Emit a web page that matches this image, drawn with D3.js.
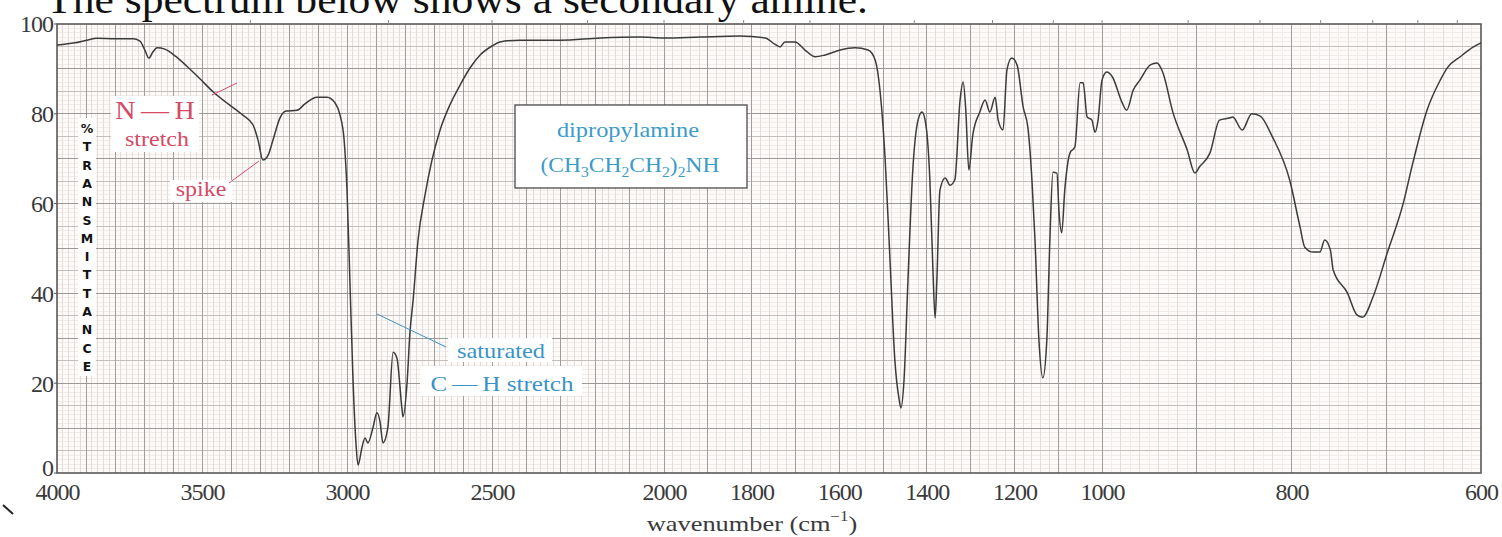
<!DOCTYPE html>
<html>
<head>
<meta charset="utf-8">
<script src="https://cdn.jsdelivr.net/npm/d3@7"></script>
<style>
  body { margin: 0; background: #ffffff; }
  svg { display: block; }
</style>
</head>
<body>
<svg id="chart" width="1502" height="537"></svg>
<script>
// IR spectrum of dipropylamine: wavenumber (cm-1) vs % transmittance
const wavenumbers = [
  4000, 3938, 3897, 3862, 3800, 3738, 3714, 3697, 3683, 3669, 3655, 3628, 3593, 3552, 3507,
  3462, 3410, 3359, 3324, 3307, 3290, 3272, 3255, 3231, 3210, 3172, 3145, 3104, 3069, 3041,
  3024, 3010, 3000, 2990, 2979, 2969, 2962, 2948, 2938, 2928, 2910, 2897, 2886, 2876, 2859,
  2841, 2828, 2810, 2807, 2793, 2783, 2772, 2755, 2731, 2707, 2679, 2645, 2610, 2576, 2541,
  2500, 2477, 2419, 2302, 2186, 2070, 2000, 1918, 1827, 1769, 1747, 1735, 1724, 1701, 1678,
  1655, 1632, 1598, 1564, 1534, 1518, 1507, 1495, 1484, 1473, 1463, 1459, 1452, 1443, 1432,
  1420, 1411, 1402, 1393, 1386, 1381, 1377, 1370, 1358, 1347, 1336, 1324, 1317, 1311, 1304,
  1295, 1279, 1267, 1256, 1244, 1237, 1226, 1217, 1206, 1194, 1180, 1169, 1160, 1153, 1144,
  1135, 1126, 1119, 1112, 1103, 1098, 1092, 1085, 1073, 1062, 1050, 1043, 1034, 1023, 1016,
  1009, 1000, 995, 989, 979, 974, 967, 960, 949, 942, 936, 925, 910, 902, 897,
  886, 876, 865, 862, 852, 842, 833, 820, 802, 791, 786, 777, 770, 765, 759,
  756, 741, 731, 725, 714, 699, 682, 672, 657, 643, 635, 622, 608, 600
];
const transmittance = [
  95.3, 95.8, 96.4, 96.8, 96.7, 96.7, 96.2, 94.2, 92.4, 93.8, 94.7, 94.4, 92.9, 90.6, 87.8,
  84.9, 82.2, 79.7, 77.5, 74.2, 69.7, 70.8, 74.2, 79.1, 80.6, 80.8, 82.2, 83.7, 83.7, 82.4,
  79.7, 74.2, 63.0, 42.8, 20.3, 6.5, 1.8, 5.8, 7.8, 6.7, 10.2, 13.4, 11.4, 6.7, 10.2,
  26.9, 25.6, 14.0, 12.5, 20.0, 31.2, 38.5, 51.9, 61.9, 69.7, 76.4, 82.0, 86.4, 90.2, 93.1,
  95.1, 96.0, 96.4, 96.4, 96.9, 97.1, 96.9, 97.1, 97.3, 96.9, 95.5, 94.9, 96.0, 96.0, 94.2,
  92.7, 93.1, 94.2, 94.7, 94.2, 92.0, 85.3, 69.7, 47.4, 25.2, 16.3, 14.5, 20.7, 43.0, 67.5,
  78.6, 80.4, 77.5, 65.3, 45.2, 34.5, 43.0, 63.0, 65.7, 64.1, 65.3, 83.1, 87.1, 80.8, 67.5,
  75.3, 80.4, 83.1, 80.4, 83.7, 78.6, 76.4, 89.8, 92.4, 90.9, 81.5, 76.8, 65.3, 51.9, 29.6,
  21.2, 29.6, 51.9, 67.0, 66.8, 57.9, 53.5, 63.0, 71.3, 72.6, 86.9, 86.9, 79.3, 78.6, 75.9,
  78.6, 87.5, 89.3, 88.2, 82.6, 80.8, 85.3, 87.5, 90.9, 91.3, 89.3, 80.2, 71.9, 66.8, 68.2,
  71.3, 78.6, 79.1, 79.3, 76.4, 80.0, 79.5, 74.8, 65.3, 54.8, 50.3, 49.2, 49.2, 51.9, 49.7,
  45.2, 40.1, 35.2, 34.7, 39.2, 49.0, 60.1, 69.0, 80.8, 87.5, 90.4, 92.7, 94.9, 95.8
];

// axis tick labels
const xTickValues = [4000, 3500, 3000, 2500, 2000, 1800, 1600, 1400, 1200, 1000, 800, 600];
const yTickValues = [0, 20, 40, 60, 80, 100];
// wavelength marks (micrometres) along the top edge
const micronTicks = [3, 3.5, 4, 4.5, 5, 5.5, 6, 7, 8, 9, 10, 11, 12, 13, 14, 15, 16];
const yTitle = "%TRANSMITTANCE";

const svg = d3.select("#chart");
const serif = "'Liberation Serif', 'Times New Roman', serif";

// chart paper uses a different scale in each wavenumber band
const x = d3.scaleLinear()
  .domain([4000, 2500, 2000, 1000, 600])
  .range([57, 492, 664, 1102, 1481]);
const y = d3.scaleLinear().domain([0, 100]).range([473, 24]);

// heading (partly off the top edge)
svg.append("text")
  .attr("transform", "translate(46,13) scale(1.09,1)")
  .attr("font-family", serif)
  .attr("font-size", 40)
  .attr("fill", "#111")
  .text("The spectrum below shows a secondary amine.");

// plot paper
svg.append("rect")
  .attr("x", x(4000)).attr("y", y(100))
  .attr("width", x(600) - x(4000)).attr("height", y(0) - y(100))
  .attr("fill", "#fdfbfa");

const grid = svg.append("g").attr("shape-rendering", "crispEdges");

// faint 1% rules
grid.selectAll("line.h1")
  .data(d3.range(1, 100).filter(v => v % 5 !== 0))
  .join("line")
  .attr("x1", x(4000)).attr("x2", x(600))
  .attr("y1", d => y(d)).attr("y2", d => y(d))
  .attr("stroke", "#f1ecea").attr("stroke-width", 1);

// fine vertical rules every 10 cm-1 in the expanded band
grid.selectAll("line.v10")
  .data(d3.range(610, 1000, 20))
  .join("line")
  .attr("x1", d => x(d)).attr("x2", d => x(d))
  .attr("y1", y(100)).attr("y2", y(0))
  .attr("stroke", "#f1ecea").attr("stroke-width", 1);

// vertical rules every 20 cm-1
grid.selectAll("line.v20")
  .data(d3.range(620, 4000, 20).filter(v => v % 100 !== 0))
  .join("line")
  .attr("x1", d => x(d)).attr("x2", d => x(d))
  .attr("y1", y(100)).attr("y2", y(0))
  .attr("stroke", "#e4dcd9").attr("stroke-width", 1);

// 5% rules
grid.selectAll("line.h5")
  .data(d3.range(5, 100, 10))
  .join("line")
  .attr("x1", x(4000)).attr("x2", x(600))
  .attr("y1", d => y(d)).attr("y2", d => y(d))
  .attr("stroke", "#c4bfbd").attr("stroke-width", 1);

// vertical rules every 100 cm-1
grid.selectAll("line.v100")
  .data(d3.range(700, 4000, 100))
  .join("line")
  .attr("x1", d => x(d)).attr("x2", d => x(d))
  .attr("y1", y(100)).attr("y2", y(0))
  .attr("stroke", "#a19d9d").attr("stroke-width", 1);

// 10% rules
grid.selectAll("line.h10")
  .data(d3.range(10, 100, 10))
  .join("line")
  .attr("x1", x(4000)).attr("x2", x(600))
  .attr("y1", d => y(d)).attr("y2", d => y(d))
  .attr("stroke", "#9c9898").attr("stroke-width", 1);

// frame
svg.append("rect")
  .attr("x", x(4000)).attr("y", y(100))
  .attr("width", x(600) - x(4000)).attr("height", y(0) - y(100))
  .attr("fill", "none").attr("stroke", "#5a5858").attr("stroke-width", 1.6);

// wavelength marks above the frame
svg.append("g").selectAll("line")
  .data(micronTicks)
  .join("line")
  .attr("x1", d => x(10000 / d)).attr("x2", d => x(10000 / d))
  .attr("y1", y(100)).attr("y2", y(100) - 4)
  .attr("stroke", "#8a8787").attr("stroke-width", 1);

// x axis: labels only, no extra ticks
const xAxis = d3.axisBottom(x).tickValues(xTickValues).tickSize(0).tickPadding(0).tickFormat(d3.format("d"));
const gx = svg.append("g").attr("transform", `translate(0,${y(0)})`).call(xAxis);
gx.select(".domain").remove();
gx.selectAll("text")
  .attr("font-family", serif).attr("font-size", 24).attr("fill", "#3a3a3a")
  .attr("letter-spacing", -1)
  .attr("dy", 0).attr("y", 27);

// y axis labels
const yAxis = d3.axisLeft(y).tickValues(yTickValues).tickSize(0).tickPadding(0);
const gy = svg.append("g").attr("transform", `translate(53,0)`).call(yAxis);
gy.select(".domain").remove();
gy.selectAll("text")
  .attr("font-family", serif).attr("font-size", 24).attr("fill", "#3a3a3a")
  .attr("letter-spacing", -1)
  .attr("dy", d => d === 0 ? "0.1em" : "0.33em");

// short tick stubs on the left edge at each label
svg.append("g").selectAll("line")
  .data(yTickValues)
  .join("line")
  .attr("x1", x(4000) - 3).attr("x2", x(4000))
  .attr("y1", d => y(d)).attr("y2", d => y(d))
  .attr("stroke", "#5a5858");

// x axis title with superscript
const xt = svg.append("text")
  .attr("transform", "translate(752,531) scale(1.2,1)")
  .attr("text-anchor", "middle")
  .attr("font-family", serif).attr("font-size", 22).attr("fill", "#3a3a3a");
xt.append("tspan").text("wavenumber (cm");
xt.append("tspan").attr("font-size", 14).attr("dy", -10).text("\u22121");
xt.append("tspan").attr("dy", 10).text(")");

// stacked vertical title
svg.append("rect").attr("x", 78).attr("y", 118).attr("width", 18).attr("height", 258).attr("fill", "#ffffff");
svg.append("g").selectAll("text")
  .data(yTitle.split(""))
  .join("text")
  .attr("x", 87)
  .attr("y", (d, i) => 133 + i * 18.3)
  .attr("text-anchor", "middle")
  .attr("font-family", "'DejaVu Sans', sans-serif")
  .attr("font-weight", "bold")
  .attr("font-size", 12.5)
  .attr("fill", "#111")
  .text(d => d);

// spectrum trace
const spectrum = wavenumbers.map((w, i) => ({ w, t: transmittance[i] }));
svg.append("path")
  .datum(spectrum)
  .attr("fill", "none")
  .attr("stroke", "#3b3b3b")
  .attr("stroke-width", 1.5)
  .attr("stroke-linejoin", "round")
  .attr("d", d3.line().x(d => x(d.w)).y(d => y(d.t)).curve(d3.curveMonotoneX));

// annotations
const red = "#d34b67";
const blue = "#3a93c6";

function label(txt, cx, base, size, color, sx) {
  return svg.append("text")
    .attr("transform", `translate(${cx},${base}) scale(${sx},1)`)
    .attr("text-anchor", "middle")
    .attr("font-family", serif)
    .attr("font-size", size)
    .attr("fill", color)
    .text(txt);
}

// N-H stretch
svg.append("rect").attr("x", 111).attr("y", 96).attr("width", 88).attr("height", 56).attr("fill", "#ffffff");
label("N\u2009\u2014\u2009H", 155, 119, 25, red, 1.12);
label("stretch", 157, 146, 20, red, 1.2);
svg.append("line").attr("x1", 212).attr("y1", 95).attr("x2", 237).attr("y2", 83)
  .attr("stroke", red).attr("stroke-width", 1);

// spike
svg.append("rect").attr("x", 170).attr("y", 180).attr("width", 62).attr("height", 22).attr("fill", "#ffffff");
label("spike", 201, 196, 20, red, 1.2);
svg.append("line").attr("x1", 229).attr("y1", 183).attr("x2", 259).attr("y2", 161)
  .attr("stroke", red).attr("stroke-width", 1);

// saturated C-H stretch
svg.append("rect").attr("x", 448).attr("y", 338).attr("width", 104).attr("height", 24).attr("fill", "#ffffff");
svg.append("rect").attr("x", 420).attr("y", 366).attr("width", 162).attr("height", 30).attr("fill", "#ffffff");
label("saturated", 501, 358, 20, blue, 1.22);
label("C\u2009\u2014\u2009H stretch", 502, 391, 22, blue, 1.14);
svg.append("line").attr("x1", 377).attr("y1", 314).attr("x2", 446).attr("y2", 347)
  .attr("stroke", blue).attr("stroke-width", 1);

// compound box
svg.append("rect").attr("x", 515).attr("y", 105).attr("width", 232).attr("height", 83)
  .attr("fill", "#ffffff").attr("stroke", "#4a4a4a").attr("stroke-width", 1.3);
label("dipropylamine", 628, 137, 20, "#3d9bc8", 1.22);
const formula = svg.append("text")
  .attr("transform", "translate(630,172) scale(1.12,1)")
  .attr("text-anchor", "middle")
  .attr("font-family", serif).attr("font-size", 21).attr("fill", "#3d9bc8");
[["(CH", 0], ["3", 1], ["CH", 0], ["2", 1], ["CH", 0], ["2", 1], [")", 0], ["2", 1], ["NH", 0]]
  .forEach(([s, sub], i, arr) => {
    const prevSub = i > 0 ? arr[i - 1][1] : 0;
    const dy = sub && !prevSub ? 5 : (!sub && prevSub ? -5 : 0);
    formula.append("tspan").attr("dy", dy).attr("font-size", sub ? 14 : 21).text(s);
  });

// stray pen mark at the lower left
svg.append("line").attr("x1", 3).attr("y1", 505).attr("x2", 13).attr("y2", 514)
  .attr("stroke", "#222").attr("stroke-width", 2);
</script>
</body>
</html>
